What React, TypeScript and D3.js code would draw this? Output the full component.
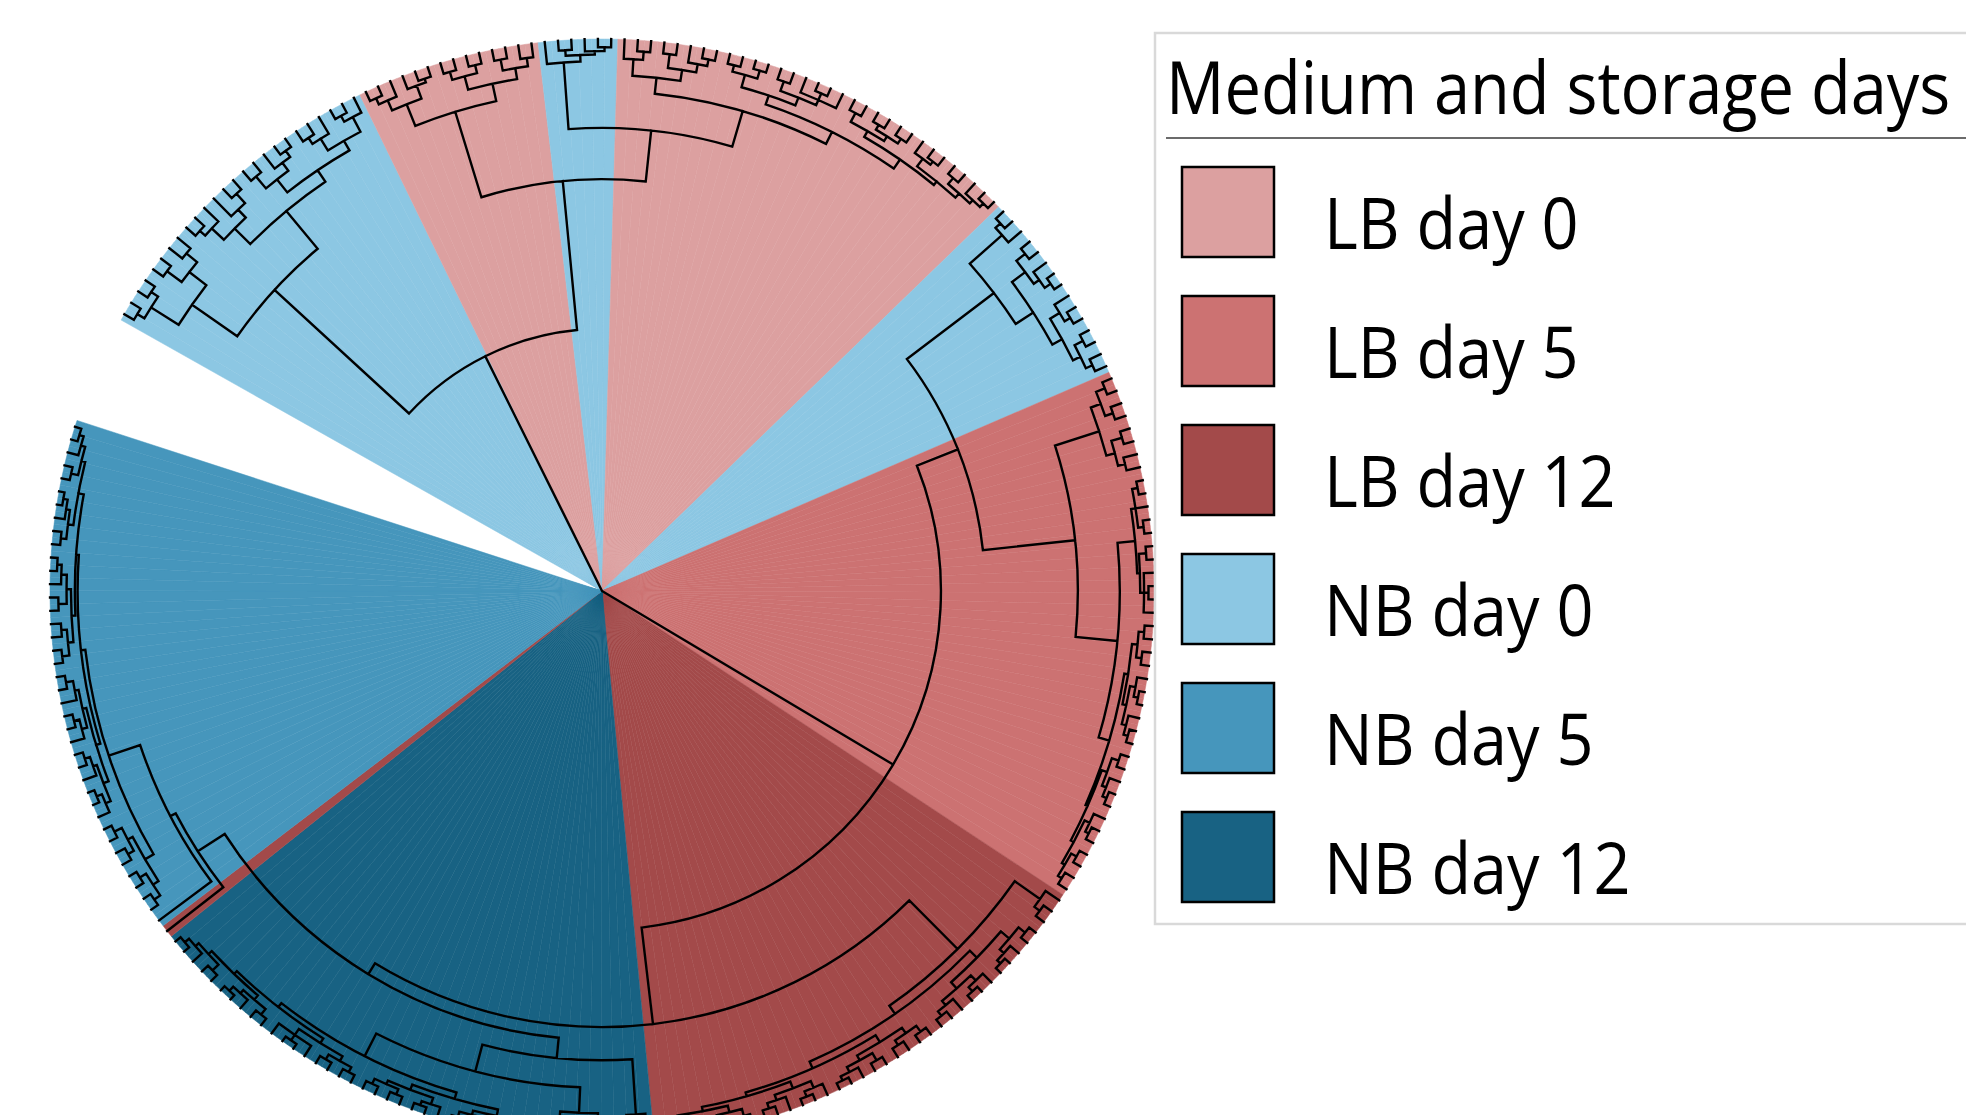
import React, { useMemo } from "react";
import * as d3 from "d3";

// Legend groups and their fills
const groupNames = ["LB day 0", "LB day 5", "LB day 12", "NB day 0", "NB day 5", "NB day 12"];
const groupColors = ["#dca0a0", "#cc7272", "#a34a4a", "#8cc7e3", "#4696bc", "#186283"];

// Consecutive runs of tips around the circle, in tree order: [group, tip count]
const leafRuns: [string, number][] = [
  ["NB day 0", 25],
  ["LB day 0", 14],
  ["NB day 0", 6],
  ["LB day 0", 32],
  ["NB day 0", 15],
  ["LB day 5", 41],
  ["LB day 12", 37],
  ["NB day 12", 41],
  ["LB day 12", 1],
  ["NB day 5", 40],
];

// Internal nodes as [first tip, last tip, merge height]; height 100 = root, 0 = tips
const backboneClusters: number[][] = [
  [0, 251, 100],
  [0, 76, 52.5],
  [77, 251, 38.6],
  [0, 24, 19.4],
  [25, 76, 25.4],
  [39, 76, 16.1],
  [77, 132, 30.6],
  [133, 251, 21.0],
  [170, 251, 18.7],
  [211, 251, 12.9],
  [212, 251, 11.8],
];

const nb0Clusters: number[][] = [
  [0, 7, 9.4], [0, 3, 3.5], [0, 1, 2.0], [2, 3, 2.0], [4, 7, 5.5], [4, 5, 2.2], [6, 7, 3.0],
  [8, 24, 10.5], [8, 13, 6.5], [8, 10, 3.5], [8, 9, 2.2], [11, 13, 4.5], [12, 13, 2.2],
  [14, 24, 8.0], [14, 18, 5.0], [14, 15, 2.2], [16, 18, 3.2], [17, 18, 1.8],
  [19, 24, 6.0], [19, 21, 3.5], [19, 20, 2.2], [22, 24, 3.0], [22, 23, 1.8],
  [39, 44, 4.0], [40, 44, 2.8], [40, 41, 1.8], [42, 44, 2.2], [43, 44, 1.5],
  [77, 91, 10.8], [77, 79, 3.0], [77, 78, 1.8], [80, 91, 7.0], [80, 84, 4.0], [80, 81, 2.0],
  [82, 84, 2.8], [83, 84, 1.5], [85, 91, 5.0], [85, 87, 3.0], [86, 87, 1.8], [88, 91, 3.5],
  [88, 89, 1.8], [90, 91, 2.2],
];

const lb0Clusters: number[][] = [
  [25, 38, 9.2], [25, 30, 5.0], [25, 27, 3.0], [25, 26, 1.8], [28, 30, 2.5], [29, 30, 1.8],
  [31, 38, 6.0], [31, 34, 3.5], [31, 32, 2.0], [33, 34, 2.0], [35, 38, 4.0], [35, 36, 2.0], [37, 38, 2.5],
  [45, 76, 9.4], [45, 52, 6.5], [45, 47, 3.5], [46, 47, 2.0], [48, 52, 4.5], [48, 49, 2.0],
  [50, 52, 3.0], [51, 52, 1.8],
  [53, 76, 7.0], [53, 62, 5.3], [53, 56, 3.0], [53, 54, 1.8], [55, 56, 1.5], [57, 62, 3.8],
  [57, 58, 2.0], [59, 62, 2.8], [60, 61, 1.5],
  [63, 76, 5.0], [63, 68, 3.8], [63, 64, 2.0], [65, 68, 2.8], [65, 66, 1.8], [67, 68, 1.8],
  [69, 76, 4.2], [69, 71, 2.5], [70, 71, 1.8], [72, 76, 3.2], [72, 73, 1.8], [74, 76, 2.4], [75, 76, 1.5],
];

const lb5Clusters: number[][] = [
  [92, 132, 13.8], [92, 99, 5.4], [92, 95, 3.5], [92, 93, 1.8], [94, 95, 2.0], [96, 99, 3.8],
  [96, 97, 1.8], [98, 99, 2.5],
  [100, 132, 6.2], [100, 110, 3.0], [100, 104, 2.2], [100, 101, 1.2], [103, 104, 1.2],
  [105, 110, 2.5], [105, 106, 1.2], [107, 110, 1.8], [108, 109, 1.0],
  [111, 132, 4.2], [111, 120, 3.5], [111, 114, 2.5], [111, 112, 1.5], [113, 114, 1.5],
  [115, 120, 2.8], [115, 117, 1.8], [116, 117, 1.0], [118, 120, 2.0], [119, 120, 1.2],
  [121, 132, 3.8], [121, 125, 2.8], [121, 122, 1.5], [123, 125, 2.0], [124, 125, 1.2],
  [126, 132, 3.2], [126, 128, 2.2], [127, 128, 1.5], [129, 132, 2.6], [129, 130, 1.5], [131, 132, 1.8],
];

const lb12Clusters: number[][] = [
  [133, 169, 8.6], [133, 135, 3.0], [134, 135, 1.8],
  [136, 169, 6.8], [136, 146, 5.0], [136, 140, 3.0], [136, 137, 1.5], [138, 140, 2.0], [139, 140, 1.2],
  [141, 146, 3.5], [141, 143, 2.2], [142, 143, 1.2], [144, 146, 2.5], [145, 146, 1.5],
  [147, 169, 5.5], [147, 155, 4.0], [147, 150, 2.8], [147, 148, 1.5], [149, 150, 1.8],
  [151, 155, 3.0], [151, 152, 1.5], [153, 155, 2.0], [154, 155, 1.2],
  [156, 169, 4.8], [156, 161, 3.5], [156, 158, 2.2], [157, 158, 1.2], [159, 161, 2.5], [160, 161, 1.5],
  [162, 169, 4.0], [162, 165, 2.8], [162, 163, 1.5], [164, 165, 1.5], [166, 169, 3.0],
  [166, 167, 1.5], [168, 169, 2.0],
];

const nb12Clusters: number[][] = [
  [170, 210, 15.0], [170, 172, 5.0], [171, 172, 2.0],
  [173, 210, 10.0], [173, 178, 5.4], [173, 175, 3.0], [174, 175, 1.5], [176, 178, 3.2], [177, 178, 1.8],
  [179, 210, 5.4], [179, 192, 4.2], [179, 185, 3.0], [179, 181, 2.0], [180, 181, 1.2],
  [182, 185, 2.2], [182, 183, 1.2], [184, 185, 1.2], [186, 192, 3.2], [186, 188, 2.0], [187, 188, 1.2],
  [189, 192, 2.5], [189, 190, 1.5], [191, 192, 1.5],
  [193, 210, 4.5], [193, 200, 3.5], [193, 196, 2.5], [193, 194, 1.5], [195, 196, 1.5],
  [197, 200, 2.2], [198, 199, 1.0], [201, 210, 3.8], [201, 205, 2.8], [201, 202, 1.5],
  [203, 205, 2.0], [204, 205, 1.0], [206, 210, 3.0], [206, 207, 1.5], [208, 210, 2.2], [209, 210, 1.2],
];

const nb5Clusters: number[][] = [
  [213, 251, 5.8], [213, 220, 4.0], [213, 216, 2.8], [213, 214, 1.5], [215, 216, 1.5],
  [217, 220, 3.0], [217, 218, 1.8], [219, 220, 1.5],
  [221, 251, 5.0], [221, 232, 4.2], [221, 226, 3.2], [221, 223, 2.2], [222, 223, 1.2],
  [224, 226, 2.5], [225, 226, 1.5], [227, 232, 3.5], [227, 229, 2.5], [228, 229, 1.5],
  [230, 232, 2.8], [231, 232, 1.5],
  [233, 251, 4.5], [233, 241, 3.8], [233, 236, 2.8], [233, 234, 1.5], [235, 236, 1.8],
  [237, 241, 3.0], [237, 238, 1.5], [239, 241, 2.0], [240, 241, 1.2],
  [242, 251, 3.5], [242, 246, 2.5], [242, 243, 1.5], [244, 246, 1.8], [245, 246, 1.0],
  [247, 251, 2.8], [247, 248, 1.5], [249, 251, 2.0], [250, 251, 1.2],
];

// Layout
const WIDTH = 1966;
const HEIGHT = 1115;
const CX = 602;
const CY = 591;
const RADIUS = 552;
const START_DEG = -60.6;
const END_DEG = 288;

type TreeNode = {
  start: number;
  end: number;
  h: number;
  children: TreeNode[];
  angle: number;
  r: number;
};

const rad = (deg: number) => (deg * Math.PI) / 180;
const polar = (r: number, deg: number): [number, number] => [
  r * Math.sin(rad(deg)),
  -r * Math.cos(rad(deg)),
];

function buildTree(clusters: number[][]): TreeNode {
  const sorted = clusters
    .slice()
    .sort((a, b) => b[1] - b[0] - (a[1] - a[0]) || b[2] - a[2]);
  const mk = (c: number[]): TreeNode => ({ start: c[0], end: c[1], h: c[2], children: [], angle: 0, r: 0 });
  const root = mk(sorted[0]);
  const insert = (node: TreeNode, c: TreeNode) => {
    const host = node.children.find((k) => k.start <= c.start && c.end <= k.end);
    if (host) insert(host, c);
    else node.children.push(c);
  };
  sorted.slice(1).forEach((c) => insert(root, mk(c)));
  const fill = (node: TreeNode) => {
    const kids = node.children.slice().sort((a, b) => a.start - b.start);
    const all: TreeNode[] = [];
    let i = node.start;
    let k = 0;
    while (i <= node.end) {
      if (k < kids.length && kids[k].start === i) {
        fill(kids[k]);
        all.push(kids[k]);
        i = kids[k].end + 1;
        k++;
      } else {
        all.push({ start: i, end: i, h: 0, children: [], angle: 0, r: 0 });
        i++;
      }
    }
    node.children = all;
  };
  fill(root);
  return root;
}

export default function App() {
  const { wedges, treePath } = useMemo(() => {
    const leafGroups: string[] = [];
    leafRuns.forEach(([g, n]) => {
      for (let j = 0; j < n; j++) leafGroups.push(g);
    });
    const nLeaves = leafGroups.length;

    const angleScale = d3.scaleLinear().domain([0, nLeaves]).range([START_DEG, END_DEG]);
    const radiusScale = d3.scaleLinear().domain([100, 0]).range([0, RADIUS]);
    const color = d3.scaleOrdinal<string, string>().domain(groupNames).range(groupColors);
    const step = (END_DEG - START_DEG) / nLeaves;

    const root = buildTree([
      ...backboneClusters,
      ...nb0Clusters,
      ...lb0Clusters,
      ...lb5Clusters,
      ...lb12Clusters,
      ...nb12Clusters,
      ...nb5Clusters,
    ]);

    const place = (n: TreeNode) => {
      n.r = radiusScale(n.h);
      if (n.children.length === 0) {
        n.angle = angleScale(n.start + 0.5);
      } else {
        n.children.forEach(place);
        n.angle = d3.mean(n.children, (c) => c.angle) as number;
      }
    };
    place(root);

    const arcGen = d3.arc<any>();
    const wedges = leafGroups.map((g, i) => {
      const a = angleScale(i + 0.5);
      const d = arcGen({
        innerRadius: 0,
        outerRadius: RADIUS,
        startAngle: rad(a - step / 2),
        endAngle: rad(a + step / 2),
      }) as string;
      return <path key={i} d={d} fill={color(g)} stroke={color(g)} strokeWidth={0.5} />;
    });

    const p = d3.path();
    const draw = (n: TreeNode) => {
      if (!n.children.length) return;
      const kids = n.children;
      const first = kids[0];
      const last = kids[kids.length - 1];
      p.moveTo(...polar(first.r, first.angle));
      p.lineTo(...polar(n.r, first.angle));
      if (n.r > 0) {
        p.arc(0, 0, n.r, rad(first.angle) - Math.PI / 2, rad(last.angle) - Math.PI / 2, false);
      } else {
        p.lineTo(0, 0);
      }
      p.lineTo(...polar(last.r, last.angle));
      kids.slice(1, -1).forEach((k) => {
        p.moveTo(...polar(k.r, k.angle));
        p.lineTo(...polar(n.r, k.angle));
      });
      kids.forEach(draw);
    };
    draw(root);

    return { wedges, treePath: p.toString() };
  }, []);

  const legendX = 1155;
  const swatchX = 1182;
  const swatchY = (i: number) => 167 + i * 129;

  return (
    <svg
      width={WIDTH}
      height={HEIGHT}
      style={{ position: "absolute", left: 0, top: 0, background: "#ffffff" }}
      fontFamily="'Open Sans', 'Noto Sans', sans-serif"
    >
      <g transform={`translate(${CX},${CY})`}>
        {wedges}
        <path
          d={treePath}
          fill="none"
          stroke="#000"
          strokeWidth={2.4}
          strokeLinejoin="miter"
          strokeLinecap="square"
        />
      </g>

      <g>
        <rect
          x={legendX}
          y={33}
          width={900}
          height={891}
          fill="#ffffff"
          stroke="#d9d9d9"
          strokeWidth={2.5}
        />
        <text transform={`translate(1166,114) scale(0.89,1)`} fontSize={73} fill="#000">
          Medium and storage days
        </text>
        <line x1={1166} x2={WIDTH} y1={138} y2={138} stroke="#3a3a3a" strokeWidth={1.6} />
        {groupNames.map((g, i) => (
          <g key={g}>
            <rect
              x={swatchX}
              y={swatchY(i)}
              width={92}
              height={90}
              fill={groupColors[i]}
              stroke="#000"
              strokeWidth={2.5}
            />
            <text
              transform={`translate(1324,${swatchY(i) + 82}) scale(0.9,1)`}
              fontSize={72}
              fill="#000"
            >
              {g}
            </text>
          </g>
        ))}
      </g>
    </svg>
  );
}
